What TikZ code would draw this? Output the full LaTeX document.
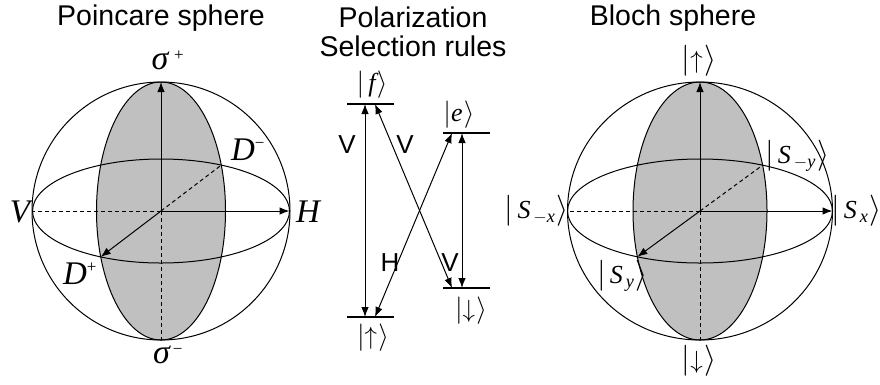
\documentclass[tikz,border=0pt]{standalone}
\usepackage{amsmath}
\usepackage{graphicx}
\usepackage{fontspec}
\setsansfont{Liberation Sans}
\newfontfamily\tms{Liberation Serif}
\usetikzlibrary{arrows.meta}
\definecolor{disc}{RGB}{192,192,192}
\newcommand{\tv}[1]{\text{\tms\itshape #1}}
\newcommand{\sups}[1]{^{\text{\fontsize{17}{17}\selectfont\tms #1}}}
% ket: bar and bracket scaled up
\newcommand{\ketv}[2][1.1]{\scalebox{#1}{$|$}$#2$\kern0.05em\scalebox{#1}{$\rangle$}}

\tikzset{
  every node/.style={inner sep=0pt},
  title/.style={font=\sffamily\fontsize{28.5}{30}\selectfont, anchor=base},
  lbl/.style={font=\fontsize{33}{36}\selectfont},
  sig/.style={font=\fontsize{34}{36}\selectfont},
  kets/.style={font=\fontsize{26}{28}\selectfont},
  pol/.style={font=\sffamily\fontsize{26}{28}\selectfont},
  rim/.style={line width=1pt},
  vec/.style={line width=1pt, -{Latex[length=10pt,width=7.5pt]}},
  hid/.style={line width=1pt, dash pattern=on 4pt off 3pt},
  level/.style={line width=2.5pt},
  trans/.style={line width=1pt, {Latex[length=10pt,width=7.5pt]}-{Latex[length=10pt,width=7.5pt]}},
}

\begin{document}
\begin{tikzpicture}[x=1pt,y=-1pt]
    \useasboundingbox (0,0) rectangle (880,384);

    % Poincare sphere
    \node[title] (ptitle) at (161,25) {Poincare sphere};
    \coordinate (pO) at (161,211);
    \coordinate (pN) at (161,82);
    \coordinate (pS) at (161,340);
    \coordinate (pW) at (32.5,211);
    \coordinate (pE) at (289.5,211);
    \coordinate (pDm) at (221.3,165.1);
    \coordinate (pDp) at (100.7,256.9);
    \fill[disc] (pO) ellipse [x radius=64.5pt, y radius=129pt];
    \draw[rim] (pO) ellipse [x radius=64.5pt, y radius=129pt];
    \draw[rim] (pO) circle [radius=129pt];
    \draw[rim] (pO) ellipse [x radius=128.5pt, y radius=52pt];
    \draw[hid] (pO) -- (pW);
    \draw[hid] (pO) -- (pS);
    \draw[hid] (pO) -- (pDm);
    \draw[vec] (pO) -- (pN);
    \draw[vec] (pO) -- (pE);
    \draw[vec] (pO) -- (pDp);
    \node[sig] (sigp) at (168,60) {$\tv{σ}\sups{\,\,+}$};
    \node[sig] (sigm) at (168,355) {$\tv{σ}\sups{\,−}$};
    \node[lbl] (polV) at (20,212) {\tms\itshape V};
    \node[lbl] (polH) at (308,212) {\tms\itshape H};
    \node[lbl] (dm) at (248,150) {$\tv{D}\sups{−}$};
    \node[lbl] (dp) at (80,274) {$\tv{D}\sups{+}$};

    % selection rules
    \node[title] (stitle1) at (413,27) {Polarization};
    \node[title] (stitle2) at (413,56) {Selection rules};
    \coordinate (fL) at (347,104);  \coordinate (fR) at (394,104);
    \coordinate (eL) at (443,133);  \coordinate (eR) at (490,133);
    \coordinate (dL) at (443,288);  \coordinate (dR) at (490,288);
    \coordinate (uL) at (347,317);  \coordinate (uR) at (394,317);
    \draw[level] (fL) -- (fR);
    \draw[level] (eL) -- (eR);
    \draw[level] (dL) -- (dR);
    \draw[level] (uL) -- (uR);
    \coordinate (f1) at (365,104);  \coordinate (f2) at (375,104);
    \coordinate (e1) at (452,133);  \coordinate (e2) at (462,133);
    \coordinate (d1) at (452,288);  \coordinate (d2) at (462,288);
    \coordinate (u1) at (365,317);  \coordinate (u2) at (375,317);
    \draw[trans] (f1) -- (u1);
    \draw[trans] (f2) -- (d1);
    \draw[trans] (e1) -- (u2);
    \draw[trans] (e2) -- (d2);
    \node[pol] (v1) at (347,145) {V};
    \node[pol] (v2) at (405,145) {V};
    \node[pol] (h1) at (390,263) {H};
    \node[pol] (v3) at (450,263) {V};
    \node[kets] (kf) at (372,85) {\ketv{\,\tv{f}}};
    \node[kets] (ke) at (459,115) {\ketv{\tv{e}}};
    \node[kets] (kd) at (471,311) {\ketv{\downarrow}};
    \node[kets] (ku) at (373,338) {\ketv{\uparrow}};

    % Bloch sphere
    \node[title] (btitle) at (673,25) {Bloch sphere};
    \coordinate (bO) at (700,211);
    \coordinate (bN) at (700,82);
    \coordinate (bS) at (700,340);
    \coordinate (bW) at (567.5,211);
    \coordinate (bE) at (832.5,211);
    \coordinate (bSmy) at (762.6,165.2);
    \coordinate (bSy) at (637.4,256.8);
    \fill[disc] (bO) ellipse [x radius=67pt, y radius=129pt];
    \draw[rim] (bO) ellipse [x radius=67pt, y radius=129pt];
    \draw[rim] (bO) ellipse [x radius=132.5pt, y radius=129pt];
    \draw[rim] (bO) ellipse [x radius=132.5pt, y radius=52pt];
    \draw[hid] (bO) -- (bW);
    \draw[hid] (bO) -- (bS);
    \draw[hid] (bO) -- (bSmy);
    \draw[vec] (bO) -- (bN);
    \draw[vec] (bO) -- (bE);
    \draw[vec] (bO) -- (bSy);
    \node[kets] (kup) at (699,61) {\ketv[1.25]{\uparrow}};
    \node[kets] (kdn) at (699,361) {\ketv[1.25]{\downarrow}};
    \node[kets, anchor=west] (ksx) at (831,211) {\ketv[1.25]{\,\tv{S}_{\,\tv{x}}}};
    \node[kets, anchor=east] (ksmx) at (569,211) {\ketv[1.25]{\,\tv{S}_{\,-\tv{x}}}};
    \node[kets, anchor=west] (ksmy) at (765,156) {\ketv[1.25]{\,\tv{S}_{\,-\tv{y}}}};
    \node[kets, anchor=west] (ksy) at (597,276) {\ketv[1.25]{\,\tv{S}_{\,\tv{y}}}};
\end{tikzpicture}
\end{document}
